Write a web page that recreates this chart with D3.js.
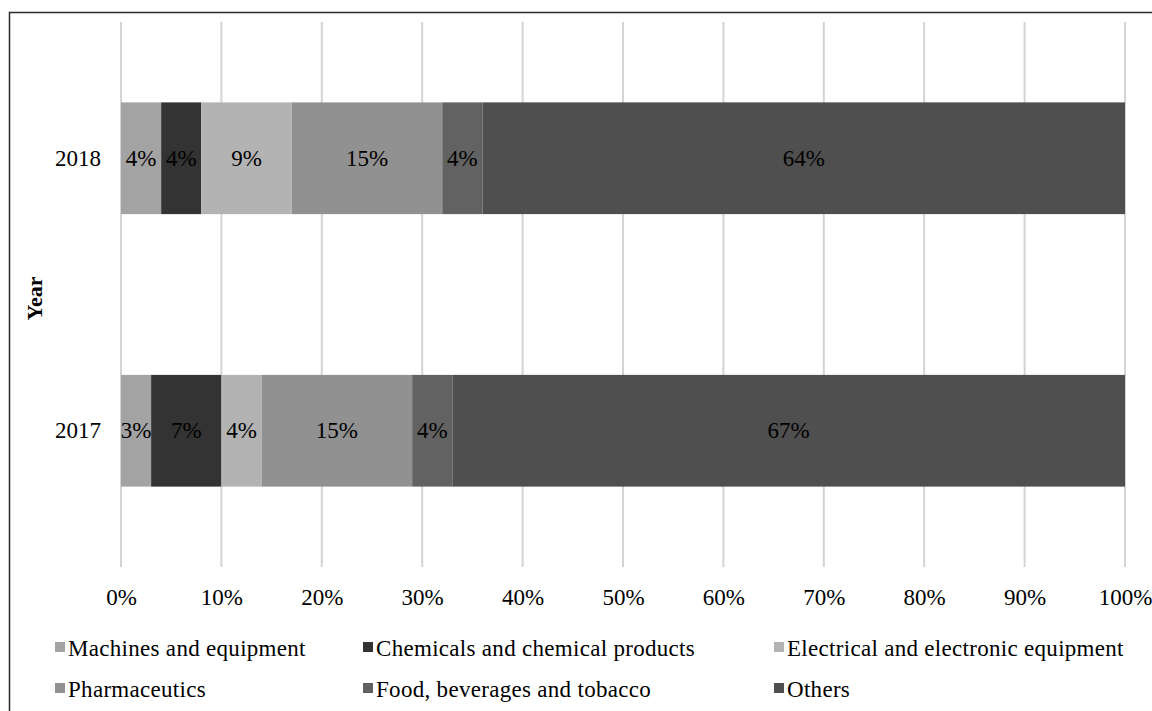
<!DOCTYPE html>
<html>
<head>
<meta charset="utf-8">
<script src="https://cdn.jsdelivr.net/npm/d3@7"></script>
<style>
  html, body { margin: 0; padding: 0; background: #fff; }
  svg { display: block; }
  text { font-family: "Liberation Serif", "Times New Roman", serif; fill: #000; }
</style>
</head>
<body>
<svg id="chart" width="1152" height="711"></svg>
<script>
// Share of sectors by year (percent)
const years = ["2018", "2017"];
const sectors = [
  "Machines and equipment",
  "Chemicals and chemical products",
  "Electrical and electronic equipment",
  "Pharmaceutics",
  "Food, beverages and tobacco",
  "Others"
];
const values2018 = [4, 4, 9, 15, 4, 64];
const values2017 = [3, 7, 4, 15, 4, 67];
const tickValues = [0, 10, 20, 30, 40, 50, 60, 70, 80, 90, 100];
const sectorColors = ["#a3a3a3", "#333333", "#b3b3b3", "#919191", "#626262", "#4f4f4f"];

const seriesByYear = { "2018": values2018, "2017": values2017 };

const svg = d3.select("#chart");
const W = 1152, H = 711;
const plot = { left: 121, right: 1125, top: 22, bottom: 567 };

// outer frame
svg.append("rect")
  .attr("x", 9.5).attr("y", 12.5)
  .attr("width", W + 20).attr("height", H + 20)
  .attr("fill", "none").attr("stroke", "#2a2a2a").attr("stroke-width", 1.5);

const x = d3.scaleLinear().domain([0, 100]).range([plot.left, plot.right]);
const y = d3.scaleBand().domain(years).range([plot.top, plot.bottom]).paddingInner(0.59).paddingOuter(0.295);
const color = d3.scaleOrdinal().domain(sectors).range(sectorColors);

// vertical gridlines
svg.append("g").selectAll("line")
  .data(tickValues)
  .join("line")
  .attr("x1", d => x(d)).attr("x2", d => x(d))
  .attr("y1", plot.top).attr("y2", plot.bottom)
  .attr("stroke", "#d4d4d4").attr("stroke-width", 2);

// stacked segments
const rows = years.map(yr => {
  let acc = 0;
  return seriesByYear[yr].map((v, i) => {
    const seg = { year: yr, sector: sectors[i], value: v, x0: acc, x1: acc + v };
    acc += v;
    return seg;
  });
});

const segs = rows.flat();
const gBars = svg.append("g");
gBars.selectAll("rect")
  .data(segs)
  .join("rect")
  .attr("x", d => x(d.x0))
  .attr("y", d => y(d.year))
  .attr("width", d => x(d.x1) - x(d.x0))
  .attr("height", y.bandwidth())
  .attr("fill", d => color(d.sector));

gBars.selectAll("text")
  .data(segs)
  .join("text")
  .attr("x", d => (x(d.x0) + x(d.x1)) / 2)
  .attr("y", d => y(d.year) + y.bandwidth() / 2)
  .attr("text-anchor", "middle")
  .attr("dominant-baseline", "central")
  .style("font-size", "23px")
  .text(d => d.value + "%");

// x axis labels
const xAxis = d3.axisBottom(x).tickValues(tickValues).tickSize(0).tickPadding(0).tickFormat(d => d + "%");
const gx = svg.append("g").attr("transform", `translate(0, ${plot.bottom + 22})`).call(xAxis);
gx.select(".domain").remove();
gx.selectAll("text").style("font-size", "23px").attr("fill", "#000")
  .attr("font-family", "Liberation Serif");

// y axis labels
const yAxis = d3.axisLeft(y).tickSize(0).tickPadding(20);
const gy = svg.append("g").attr("transform", `translate(${plot.left}, 0)`).call(yAxis);
gy.select(".domain").remove();
gy.selectAll("text").style("font-size", "23px").attr("fill", "#000")
  .attr("font-family", "Liberation Serif");

// axis title
svg.append("text")
  .attr("transform", `translate(34, ${(plot.top + plot.bottom) / 2 + 4}) rotate(-90)`)
  .attr("text-anchor", "middle")
  .attr("dominant-baseline", "central")
  .style("font-size", "22px")
  .style("font-weight", "bold")
  .text("Year");

// legend
const legendPos = [
  { x: 55, y: 648 }, { x: 363, y: 648 }, { x: 774, y: 648 },
  { x: 55, y: 689 }, { x: 363, y: 689 }, { x: 774, y: 689 }
];
const gLeg = svg.append("g");
const items = gLeg.selectAll("g")
  .data(sectors)
  .join("g")
  .attr("transform", (d, i) => `translate(${legendPos[i].x}, ${legendPos[i].y})`);
items.append("rect")
  .attr("x", 0).attr("y", -6).attr("width", 10).attr("height", 10)
  .attr("fill", d => color(d));
items.append("text")
  .attr("x", 13).attr("y", 0)
  .attr("dominant-baseline", "central")
  .style("font-size", "23px")
  .style("letter-spacing", "0.3px")
  .text(d => d);
</script>
</body>
</html>
